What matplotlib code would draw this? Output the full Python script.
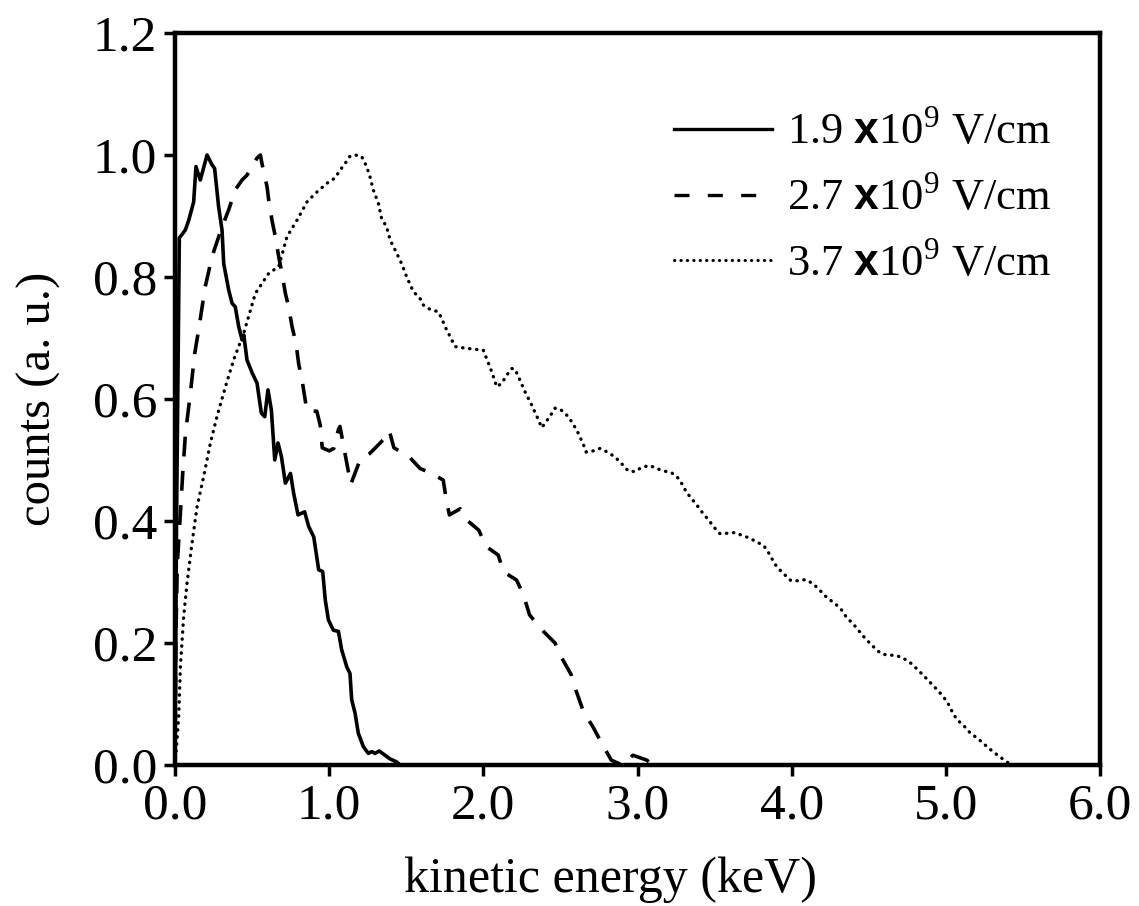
import matplotlib
matplotlib.use("Agg")
import matplotlib.pyplot as plt
from matplotlib.lines import Line2D

plt.rcParams['font.family'] = ['Liberation Serif', 'DejaVu Serif']
plt.rcParams['mathtext.fontset'] = 'custom'
plt.rcParams['mathtext.rm'] = 'Liberation Serif'
plt.rcParams['mathtext.bf'] = 'Liberation Sans:bold'

# 1.9 x10^9 V/cm (solid)
e_19 = [0, 0.01, 0.028, 0.067, 0.089, 0.121, 0.136, 0.164, 0.208, 0.24, 0.257, 0.283,
        0.305, 0.316, 0.348, 0.37, 0.391, 0.413, 0.435, 0.446, 0.467, 0.50, 0.532, 0.56,
        0.582, 0.603, 0.625, 0.647, 0.668, 0.69, 0.716, 0.749, 0.77, 0.798, 0.841, 0.867,
        0.90, 0.932, 0.958, 0.975, 0.995, 1.027, 1.06, 1.081, 1.114, 1.135, 1.146, 1.168,
        1.189, 1.222, 1.254, 1.276, 1.297, 1.325, 1.362, 1.395, 1.438, 1.46]
c_19 = [0, 0.40, 0.864, 0.877, 0.893, 0.923, 0.981, 0.959, 1.0, 0.984, 0.978, 0.915,
        0.877, 0.822, 0.779, 0.757, 0.751, 0.719, 0.697, 0.705, 0.664, 0.643, 0.626, 0.577,
        0.571, 0.615, 0.582, 0.50, 0.528, 0.506, 0.462, 0.478, 0.445, 0.41, 0.415, 0.391,
        0.374, 0.32, 0.317, 0.27, 0.238, 0.221, 0.219, 0.189, 0.161, 0.15, 0.107, 0.085,
        0.052, 0.030, 0.019, 0.022, 0.019, 0.023, 0.016, 0.01, 0.005, 0.0]

# 2.7 x10^9 V/cm (dashed)
e_27 = [0, 0.005, 0.015, 0.035, 0.05, 0.068, 0.10, 0.128, 0.153, 0.196, 0.24, 0.262,
        0.305, 0.348, 0.391, 0.435, 0.467, 0.532, 0.554, 0.564, 0.597, 0.608, 0.629, 0.651,
        0.673, 0.694, 0.716, 0.737, 0.759, 0.785, 0.802, 0.824, 0.856, 0.92, 0.942, 0.955,
        1.0, 1.03, 1.06, 1.07, 1.14, 1.2, 1.26, 1.3, 1.35, 1.39, 1.42, 1.52, 1.59, 1.665,
        1.74, 1.76, 1.78, 1.85, 1.9, 1.97, 2.02, 2.097, 2.13, 2.216, 2.26, 2.30, 2.39,
        2.465, 2.51, 2.57, 2.6, 2.65, 2.71, 2.78, 2.83, 2.9, 2.97, 3.06, 3.1]
c_27 = [0, 0.2, 0.33, 0.413, 0.478, 0.544, 0.61, 0.675, 0.713, 0.784, 0.833, 0.85,
        0.882, 0.91, 0.943, 0.959, 0.967, 0.995, 1.0, 0.986, 0.948, 0.926, 0.893, 0.866,
        0.833, 0.806, 0.773, 0.751, 0.719, 0.691, 0.658, 0.631, 0.58, 0.58, 0.557, 0.52,
        0.515, 0.519, 0.55, 0.555, 0.46, 0.50, 0.51, 0.52, 0.533, 0.548, 0.52, 0.505, 0.486,
        0.478, 0.467, 0.434, 0.41, 0.42, 0.40, 0.385, 0.358, 0.344, 0.317, 0.303, 0.279,
        0.246, 0.219, 0.2, 0.175, 0.148, 0.123, 0.087, 0.063, 0.03, 0.008, 0.0, 0.016,
        0.008, 0.0]

# 3.7 x10^9 V/cm (dotted)
e_37 = [0, 0.01, 0.024, 0.035, 0.056, 0.078, 0.11, 0.143, 0.186, 0.229, 0.272, 0.327,
        0.38, 0.446, 0.521, 0.608, 0.673, 0.726, 0.791, 0.856, 0.91, 0.997, 1.038, 1.07,
        1.103, 1.135, 1.168, 1.21, 1.243, 1.265, 1.286, 1.319, 1.34, 1.373, 1.395, 1.438,
        1.47, 1.503, 1.546, 1.589, 1.611, 1.654, 1.708, 1.73, 1.751, 1.773, 1.795, 1.816,
        1.892, 2.0, 2.02, 2.054, 2.087, 2.12, 2.152, 2.184, 2.205, 2.227, 2.27, 2.314,
        2.357, 2.379, 2.433, 2.465, 2.5, 2.552, 2.606, 2.65, 2.667, 2.714, 2.757, 2.805,
        2.854, 2.897, 2.94, 2.984, 3.027, 3.08, 3.124, 3.172, 3.221, 3.258, 3.288, 3.318,
        3.35, 3.388, 3.423, 3.46, 3.499, 3.536, 3.584, 3.634, 3.681, 3.727, 3.77, 3.818,
        3.848, 3.877, 3.903, 3.95, 3.996, 4.04, 4.09, 4.14, 4.188, 4.23, 4.28, 4.324,
        4.356, 4.4, 4.443, 4.482, 4.53, 4.577, 4.622, 4.67, 4.718, 4.768, 4.81, 4.858,
        4.9, 4.945, 4.984, 5.016, 5.042, 5.07, 5.118, 5.16, 5.21, 5.254, 5.3, 5.347,
        5.395, 5.43]
c_37 = [0, 0.03, 0.079, 0.161, 0.243, 0.298, 0.363, 0.423, 0.473, 0.527, 0.571, 0.62,
        0.664, 0.708, 0.773, 0.806, 0.817, 0.866, 0.893, 0.923, 0.937, 0.956, 0.962, 0.975,
        0.986, 0.998, 1.0, 0.998, 0.981, 0.964, 0.943, 0.921, 0.896, 0.882, 0.861, 0.839,
        0.822, 0.80, 0.776, 0.765, 0.754, 0.747, 0.743, 0.732, 0.719, 0.708, 0.697, 0.686,
        0.683, 0.68, 0.667, 0.645, 0.62, 0.626, 0.639, 0.65, 0.649, 0.637, 0.612, 0.59,
        0.566, 0.553, 0.572, 0.585, 0.583, 0.571, 0.549, 0.525, 0.513, 0.515, 0.519, 0.513,
        0.505, 0.494, 0.482, 0.481, 0.488, 0.491, 0.486, 0.482, 0.479, 0.472, 0.461, 0.447,
        0.437, 0.425, 0.413, 0.402, 0.389, 0.379, 0.38, 0.381, 0.376, 0.372, 0.366, 0.36,
        0.349, 0.336, 0.325, 0.313, 0.302, 0.302, 0.304, 0.297, 0.285, 0.274, 0.265, 0.254,
        0.242, 0.231, 0.218, 0.206, 0.194, 0.183, 0.18, 0.18, 0.176, 0.168, 0.158, 0.146,
        0.135, 0.123, 0.112, 0.1, 0.087, 0.075, 0.064, 0.052, 0.043, 0.033, 0.023, 0.014,
        0.005, 0.0]

labels = [r'1.9 $\mathbf{x}$10$^9$ V/cm', r'2.7 $\mathbf{x}$10$^9$ V/cm', r'3.7 $\mathbf{x}$10$^9$ V/cm']
xticks = [0, 1, 2, 3, 4, 5, 6]
yticks = [0.0, 0.2, 0.4, 0.6, 0.8, 1.0, 1.2]

fig = plt.figure(figsize=(11.39, 9.06), dpi=100)
ax = fig.add_axes([175 / 1139, 1 - 765 / 906, 925 / 1139, 732 / 906])

ax.plot(e_19, c_19, color='black', lw=2.6, solid_joinstyle='round')
ax.plot(e_27, c_27, color='black', lw=2.6, dashes=(5.5, 4), dash_capstyle='butt')
ax.plot(e_37, c_37, color='black', lw=2.4, linestyle=(0, (0.1, 2.0)), dash_capstyle='round')

ax.set_xlim(0, 6)
ax.set_ylim(0, 1.2)
ax.set_xticks(xticks)
ax.set_xticklabels(['%.1f' % t for t in xticks])
ax.set_yticks(yticks)
ax.set_yticklabels(['%.1f' % t for t in yticks])
ax.tick_params(axis='both', direction='out', length=8, width=2.5, labelsize=37, pad=5)
ax.tick_params(top=False, right=False)
for s in ax.spines.values():
    s.set_linewidth(3.2)

ax.set_xlabel('kinetic energy (keV)', fontsize=36)
ax.set_ylabel('counts (a. u.)', fontsize=35)
ax.xaxis.set_label_coords((611 - 175) / 925, -0.125)
ax.yaxis.set_label_coords(-0.123, 0.5)

handles = [
    Line2D([], [], color='black', lw=2.4),
    Line2D([], [], color='black', lw=2.4, dashes=(4.5, 5.5)),
    Line2D([], [], color='black', lw=2.2, linestyle=(0, (0.1, 2.0)), dash_capstyle='round'),
]
ax.legend(handles, labels, loc='upper right', bbox_to_anchor=(0.948, 0.895), frameon=False,
          fontsize=32, handlelength=2.2, handletextpad=0.35, labelspacing=0.5,
          borderpad=0, borderaxespad=0)

fig.savefig('out.png', dpi=100)
